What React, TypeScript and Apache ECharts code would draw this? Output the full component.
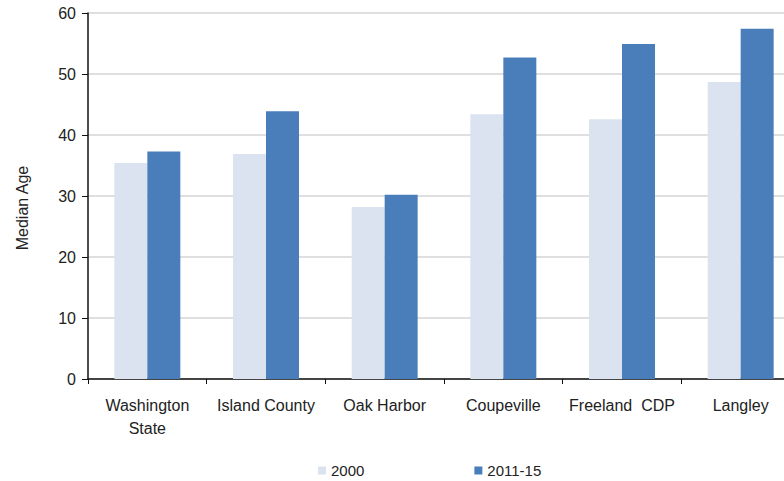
import React, { useEffect, useRef } from "react";
import * as echarts from "echarts";

const categories = ["Washington\nState", "Island County", "Oak Harbor", "Coupeville", "Freeland  CDP", "Langley"];
const values2000 = [35.4, 36.9, 28.2, 43.4, 42.6, 48.7];
const values2011 = [37.3, 43.9, 30.2, 52.7, 54.9, 57.4];
const seriesNames = ["2000", "2011-15"];
const yTitle = "Median Age";

const FONT = "'Liberation Sans Narrow', 'Liberation Sans', Arial, sans-serif";

export default function App() {
  const ref = useRef<HTMLDivElement>(null);
  useEffect(() => {
    if (!ref.current) return;
    const chart = echarts.init(ref.current, null, { renderer: "svg" });
    chart.setOption({
      animation: false,
      backgroundColor: "#ffffff",
      textStyle: { fontFamily: FONT },
      grid: { left: 88, top: 13, width: 712, height: 366, outerBoundsMode: "none", containLabel: false },
      legend: {
        left: 318,
        top: 463,
        padding: 0,
        itemWidth: 8,
        itemHeight: 8,
        itemGap: 110,
        icon: "rect",
        textStyle: { fontFamily: FONT, fontSize: 15, color: "#222" },
        data: seriesNames,
      },
      xAxis: {
        type: "category",
        data: categories,
        axisLine: { lineStyle: { color: "#111", width: 1.5 } },
        axisTick: { show: true, length: 5, lineStyle: { color: "#111" } },
        axisLabel: { fontFamily: FONT, fontSize: 16, color: "#222", margin: 15, lineHeight: 23, interval: 0 },
      },
      yAxis: {
        type: "value",
        min: 0,
        max: 60,
        interval: 10,
        name: yTitle,
        nameLocation: "middle",
        nameGap: 58,
        nameTextStyle: { fontFamily: FONT, fontSize: 16, color: "#222", padding: [0, 0, 0, -24] },
        axisLine: { show: true, lineStyle: { color: "#111", width: 1.5 } },
        axisTick: { show: true, length: 6, lineStyle: { color: "#111" } },
        axisLabel: { fontFamily: FONT, fontSize: 16, color: "#222", margin: 12 },
        splitLine: { lineStyle: { color: "#d4d4d4", width: 1.5 } },
      },
      series: [
        {
          name: seriesNames[0],
          type: "bar",
          data: values2000,
          barWidth: 33,
          barGap: "0%",
          itemStyle: { color: "#dae3ef" },
        },
        {
          name: seriesNames[1],
          type: "bar",
          data: values2011,
          barWidth: 33,
          barGap: "0%",
          itemStyle: { color: "#4a7ebb" },
        },
      ],
    });
    return () => chart.dispose();
  }, []);
  return <div ref={ref} style={{ position: "absolute", left: 0, top: 0, width: 784, height: 481 }} />;
}
